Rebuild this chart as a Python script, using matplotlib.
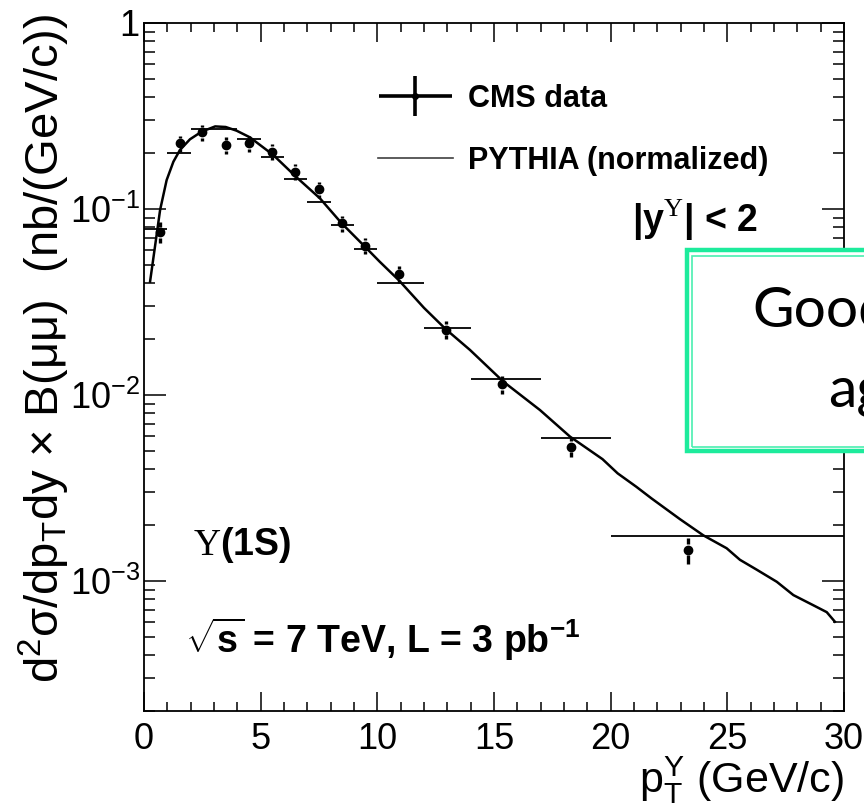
import numpy as np
import matplotlib
matplotlib.use("Agg")
import matplotlib.pyplot as plt
from matplotlib.patches import Rectangle
from matplotlib.lines import Line2D
from matplotlib.legend_handler import HandlerErrorbar
from matplotlib.ticker import FixedLocator, FixedFormatter, MultipleLocator, LogLocator, NullFormatter

plt.rcParams['font.family'] = ['Liberation Sans', 'DejaVu Sans']
plt.rcParams['mathtext.fontset'] = 'custom'
plt.rcParams['mathtext.rm'] = 'Liberation Serif'
plt.rcParams['mathtext.sf'] = 'Liberation Sans'
plt.rcParams['mathtext.it'] = 'Liberation Sans:italic'
plt.rcParams['mathtext.bf'] = 'Liberation Sans:bold'

# pT bins (GeV/c)
bin_lo = [0, 1, 2, 3, 4, 5, 6, 7, 8, 9, 10, 12, 14, 17, 20]
bin_hi = [1, 2, 3, 4, 5, 6, 7, 8, 9, 10, 12, 14, 17, 20, 30]
# bin-averaged level, drawn as horizontal segments
bin_level = [0.0781, 0.1993, 0.2682, 0.2702, 0.2369, 0.1897, 0.1455, 0.1097,
             0.0820, 0.0610, 0.0402, 0.0230, 0.01224, 0.00590, 0.001746]
# CMS data points (nb/(GeV/c))
pt_mean = [0.69, 1.54, 2.47, 3.51, 4.49, 5.50, 6.49, 7.50, 8.47, 9.47,
           10.93, 12.93, 15.36, 18.30, 23.30]
xsec = [0.0752, 0.2255, 0.2584, 0.2208, 0.2255, 0.2033, 0.1586, 0.1276,
        0.0838, 0.0633, 0.0446, 0.0224, 0.01142, 0.00527, 0.00147]
xsec_err = [0.0098, 0.0226, 0.0258, 0.0243, 0.0226, 0.0203, 0.0159, 0.0128,
            0.0084, 0.0063, 0.0045, 0.0025, 0.00126, 0.00063, 0.00024]
# PYTHIA shape, normalized to the data
pythia_pt = [0.26, 0.47, 0.69, 0.97, 1.26, 1.54, 1.97, 2.47, 3.05, 3.50, 3.97,
             4.54, 5.54, 6.54, 7.54, 8.47, 9.47, 10.10, 10.93, 12.00, 12.93,
             13.97, 15.40, 16.97, 18.26, 19.65, 20.30, 21.10, 21.75, 22.97,
             23.97, 24.97, 25.54, 26.26, 27.12, 27.83, 28.69, 29.26, 29.61]
pythia_xsec = [0.0407, 0.0627, 0.0988, 0.143, 0.1796, 0.2075, 0.237, 0.2605,
               0.278, 0.276, 0.2636, 0.2428, 0.1951, 0.148, 0.1141, 0.0838,
               0.0627, 0.0521, 0.0413, 0.0294, 0.0226, 0.01747, 0.0118, 0.0083,
               0.00597, 0.00452, 0.00379, 0.00321, 0.00278, 0.00215, 0.00176,
               0.0015, 0.0013, 0.00115, 0.00099, 0.00084, 0.00074, 0.00068,
               0.000604]

ytick_vals = [1e-3, 1e-2, 1e-1, 1]
ytick_labels = [r'$\mathsf{10^{-3}}$', r'$\mathsf{10^{-2}}$', r'$\mathsf{10^{-1}}$', '1']
xtick_vals = [0, 5, 10, 15, 20, 25, 30]

fig = plt.figure(figsize=(8.64, 8.09), dpi=100)
ax = fig.add_axes([144 / 864, 1 - 711 / 809, 700 / 864, 688 / 809])
ax.set_yscale('log')
ax.set_xlim(0, 30)
ax.set_ylim(2e-4, 1)

# curve and bin levels
ax.plot(pythia_pt, pythia_xsec, color='k', lw=1.8, zorder=3)
ax.hlines(bin_level, bin_lo, bin_hi, color='k', lw=1.3, zorder=3)

# data: vertical errors with a gap around the marker
fig.canvas.draw()
gap_px = 5.5
inv = ax.transData.inverted()
for x, y, e in zip(pt_mean, xsec, xsec_err):
    xd, yd = ax.transData.transform((x, y))
    y_gap_hi = inv.transform((xd, yd + gap_px))[1]
    y_gap_lo = inv.transform((xd, yd - gap_px))[1]
    if y + e > y_gap_hi:
        ax.vlines(x, y_gap_hi, y + e, color='k', lw=2.4, zorder=4)
    if y - e < y_gap_lo:
        ax.vlines(x, y - e, y_gap_lo, color='k', lw=2.4, zorder=4)
ax.plot(pt_mean, xsec, 'o', color='k', ms=6, zorder=5)

# axis styling
for sp in ax.spines.values():
    sp.set_linewidth(1.3)
ax.xaxis.set_major_locator(FixedLocator(xtick_vals))
ax.xaxis.set_minor_locator(MultipleLocator(1))
ax.yaxis.set_major_locator(FixedLocator(ytick_vals))
ax.yaxis.set_major_formatter(FixedFormatter(ytick_labels))
ax.yaxis.set_minor_locator(LogLocator(base=10, subs=np.arange(2, 10)))
ax.yaxis.set_minor_formatter(NullFormatter())
ax.tick_params(which='both', direction='in', top=True, right=True, width=1.1,
               labelsize=26)
ax.tick_params(axis='x', which='major', length=13.7, pad=8)
ax.tick_params(axis='x', which='minor', length=6.5)
ax.tick_params(axis='y', which='major', length=15.8, pad=3)
ax.tick_params(axis='y', which='minor', length=7.8)

fig.text(844 / 864, 1 - 793 / 809, r'p$_{\mathsf{T}}^{\mathsf{Υ}}$ (GeV/c)',
         fontsize=31, ha='right', va='baseline')
fig.text(44 / 864, 1 - 14 / 809,
         r'd$^{\mathsf{2}}$σ/dp$_{\mathsf{T}}$dy × B(μμ)  (nb/(GeV/c))',
         fontsize=34, rotation=90, ha='center', va='top')

# legend
data_handle = ax.errorbar([np.nan], [np.nan], xerr=[1], yerr=[1], fmt='o',
                          color='k', ms=4, elinewidth=2.6)
mc_handle = Line2D([], [], color='0.25', lw=1.2)
ax.legend([data_handle, mc_handle], ['CMS data', 'PYTHIA (normalized)'],
          handler_map={type(data_handle): HandlerErrorbar(xerr_size=1.2, yerr_size=0.65)},
          loc='upper left', bbox_to_anchor=(378 / 864, 1 - 84 / 809),
          bbox_transform=fig.transFigure, frameon=False, borderpad=0,
          borderaxespad=0, handlelength=2.45, handletextpad=0.5,
          labelspacing=1.05, prop={'weight': 'bold', 'size': 22})

# annotations
ax.text(632 / 864, 1 - 232 / 809, r'|y$^{\mathrm{Υ}}$| < 2', transform=fig.transFigure,
        fontsize=27, fontweight='bold', ha='left', va='baseline')
ax.text(193 / 864, 1 - 555 / 809, r'$\mathrm{Υ}$(1S)', transform=fig.transFigure,
        fontsize=27, fontweight='bold', ha='left', va='baseline')
ax.text(185 / 864, 1 - 653 / 809, r'$\sqrt{\mathbf{s}}$ = 7 TeV, L = 3 pb$^{\mathbf{-1}}$',
        transform=fig.transFigure, fontsize=27, fontweight='bold',
        ha='left', va='baseline')

# callout box on the right
green = '#1DEB9C'
fig.add_artist(Rectangle((687 / 864, 1 - 451 / 809), 0.4, 201 / 809,
                         transform=fig.transFigure, facecolor='white',
                         edgecolor=green, lw=3.2, zorder=5))
fig.add_artist(Rectangle((692 / 864, 1 - 447 / 809), 0.4, 191 / 809,
                         transform=fig.transFigure, facecolor='none',
                         edgecolor=green, lw=1.2, alpha=0.8, zorder=6))
fig.text(752 / 864, 1 - 327 / 809, 'Good', family=['Lato', 'DejaVu Sans'],
         fontsize=41, ha='left', va='baseline', zorder=7)
fig.text(828 / 864, 1 - 407 / 809, 'agreement', family=['Lato', 'DejaVu Sans'],
         fontsize=41, ha='left', va='baseline', zorder=7)

fig.savefig('out.png', dpi=100)
